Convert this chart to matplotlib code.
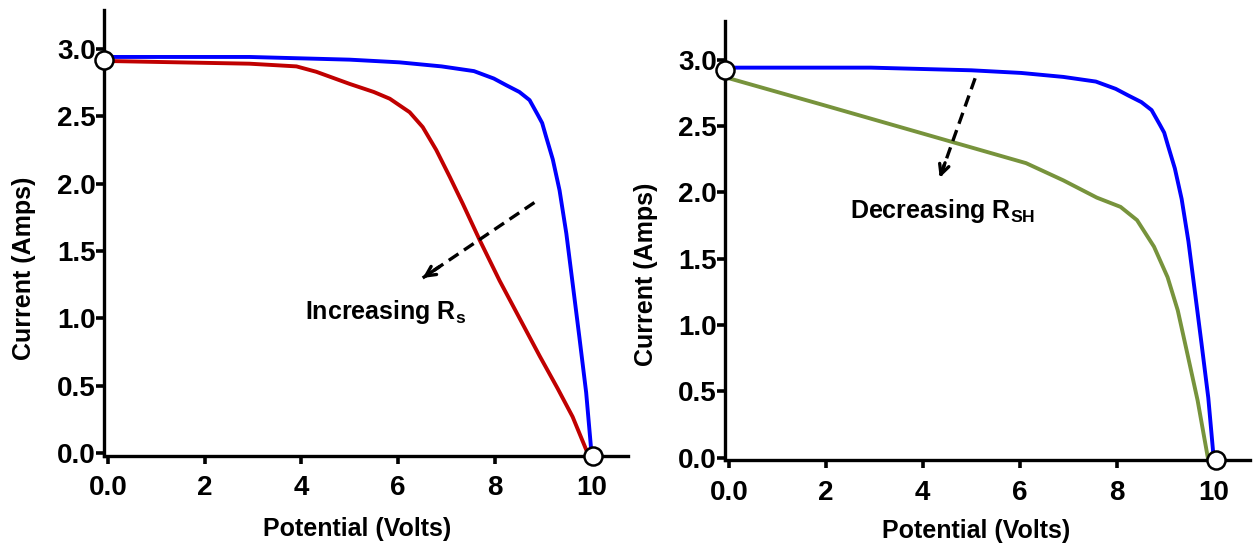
import matplotlib
matplotlib.use("Agg")
import matplotlib.pyplot as plt

# values
blue_v = [0, 2.93, 5.0, 6.03, 6.9, 7.57, 7.98, 8.24, 8.51, 8.72, 8.89, 8.98, 9.06, 9.2,
          9.34, 9.48, 9.61, 9.75, 9.89, 10.0]
blue_i = [2.94, 2.94, 2.92, 2.90, 2.87, 2.835, 2.78, 2.73, 2.68, 2.62, 2.51, 2.45, 2.35, 2.18,
          1.95, 1.63, 1.26, 0.86, 0.45, 0.0]

red_v = [0, 2.93, 3.9, 4.31, 5.0, 5.5, 5.83, 6.24, 6.51, 6.79, 7.07, 7.34, 7.69, 8.1,
         8.5, 8.93, 9.3, 9.61, 9.92]
red_i = [2.91, 2.89, 2.87, 2.83, 2.74, 2.68, 2.63, 2.53, 2.42, 2.25, 2.05, 1.85, 1.58, 1.28,
         1.01, 0.72, 0.48, 0.27, 0.0]

green_v = [0, 1.93, 4.03, 6.13, 6.9, 7.59, 8.08, 8.42, 8.77, 9.05, 9.26, 9.46, 9.67, 9.88]
green_i = [2.86, 2.66, 2.44, 2.22, 2.09, 1.96, 1.89, 1.79, 1.59, 1.36, 1.11, 0.78, 0.43, 0.0]

circle_v = [-0.08, 10.04]
circle_i = [2.92, -0.02]

x_ticks = [0, 2, 4, 6, 8, 10]
x_labels = ["0.0", "2", "4", "6", "8", "10"]
y_ticks = [0, 0.5, 1.0, 1.5, 2.0, 2.5, 3.0]
y_labels = ["0.0", "0.5", "1.0", "1.5", "2.0", "2.5", "3.0"]

plt.rcParams['font.family'] = ['Liberation Sans', 'DejaVu Sans']
plt.rcParams['font.weight'] = 'bold'

fig = plt.figure(figsize=(12.53, 5.44), dpi=100)
ax1 = fig.add_axes([0.083, 0.162, 0.418, 0.820])
ax2 = fig.add_axes([0.5786, 0.154, 0.419, 0.807])


def style_axes(ax):
    ax.set_xlim(-0.08, 10.75)
    ax.set_ylim(-0.02, 3.29)
    for side in ('top', 'right'):
        ax.spines[side].set_visible(False)
    for side in ('left', 'bottom'):
        ax.spines[side].set_linewidth(2.4)
    ax.set_xticks(x_ticks)
    ax.set_xticklabels(x_labels)
    ax.set_yticks(y_ticks)
    ax.set_yticklabels(y_labels)
    ax.tick_params(width=2.6, length=6, labelsize=20)
    ax.tick_params(axis='y', pad=0)
    ax.tick_params(axis='x', pad=8)
    for lab in ax.get_xticklabels() + ax.get_yticklabels():
        lab.set_fontweight('heavy')
    ax.set_xlabel("Potential (Volts)", fontsize=18, fontweight='bold')
    ax.set_ylabel("Current (Amps)", fontsize=18, fontweight='bold')


def dashed_arrow(ax, start, end):
    ax.plot([start[0], end[0]], [start[1], end[1]], color='black', lw=2.4,
            linestyle=(0, (3.5, 2)))
    tail = (end[0] + (start[0] - end[0]) * 0.15, end[1] + (start[1] - end[1]) * 0.15)
    ax.annotate("", xy=end, xytext=tail,
                arrowprops=dict(arrowstyle="->,head_length=0.7,head_width=0.35",
                                color='black', lw=2.4, shrinkA=0, shrinkB=0))


style_axes(ax1)
ax1.plot(blue_v, blue_i, color='#0000FF', lw=2.8, solid_joinstyle='round')
ax1.plot(red_v, red_i, color='#C00000', lw=2.8, solid_joinstyle='round')
ax1.plot(circle_v, circle_i, 'o', ms=13, mfc='white', mec='black', mew=1.8,
         clip_on=False, zorder=5)
dashed_arrow(ax1, (8.82, 1.86), (6.51, 1.30))
ax1.text(4.07, 1.05, r"Increasing R$_\mathregular{s}$", fontsize=18,
         fontweight='bold', va='center', ha='left')
ax1.yaxis.set_label_coords(-0.13, 0.42)
ax1.xaxis.set_label_coords(0.483, -0.137)

style_axes(ax2)
ax2.plot(blue_v, blue_i, color='#0000FF', lw=2.8, solid_joinstyle='round')
ax2.plot(green_v, green_i, color='#77933C', lw=2.8, solid_joinstyle='round')
ax2.plot(circle_v, circle_i, 'o', ms=13, mfc='white', mec='black', mew=1.8,
         clip_on=False, zorder=5)
dashed_arrow(ax2, (5.08, 2.86), (4.35, 2.11))
ax2.text(2.5, 1.86, r"Decreasing R$_\mathregular{SH}$", fontsize=18,
         fontweight='bold', va='center', ha='left')
ax2.yaxis.set_label_coords(-0.128, 0.424)
ax2.xaxis.set_label_coords(0.478, -0.134)

fig.savefig("out.png", dpi=100)
